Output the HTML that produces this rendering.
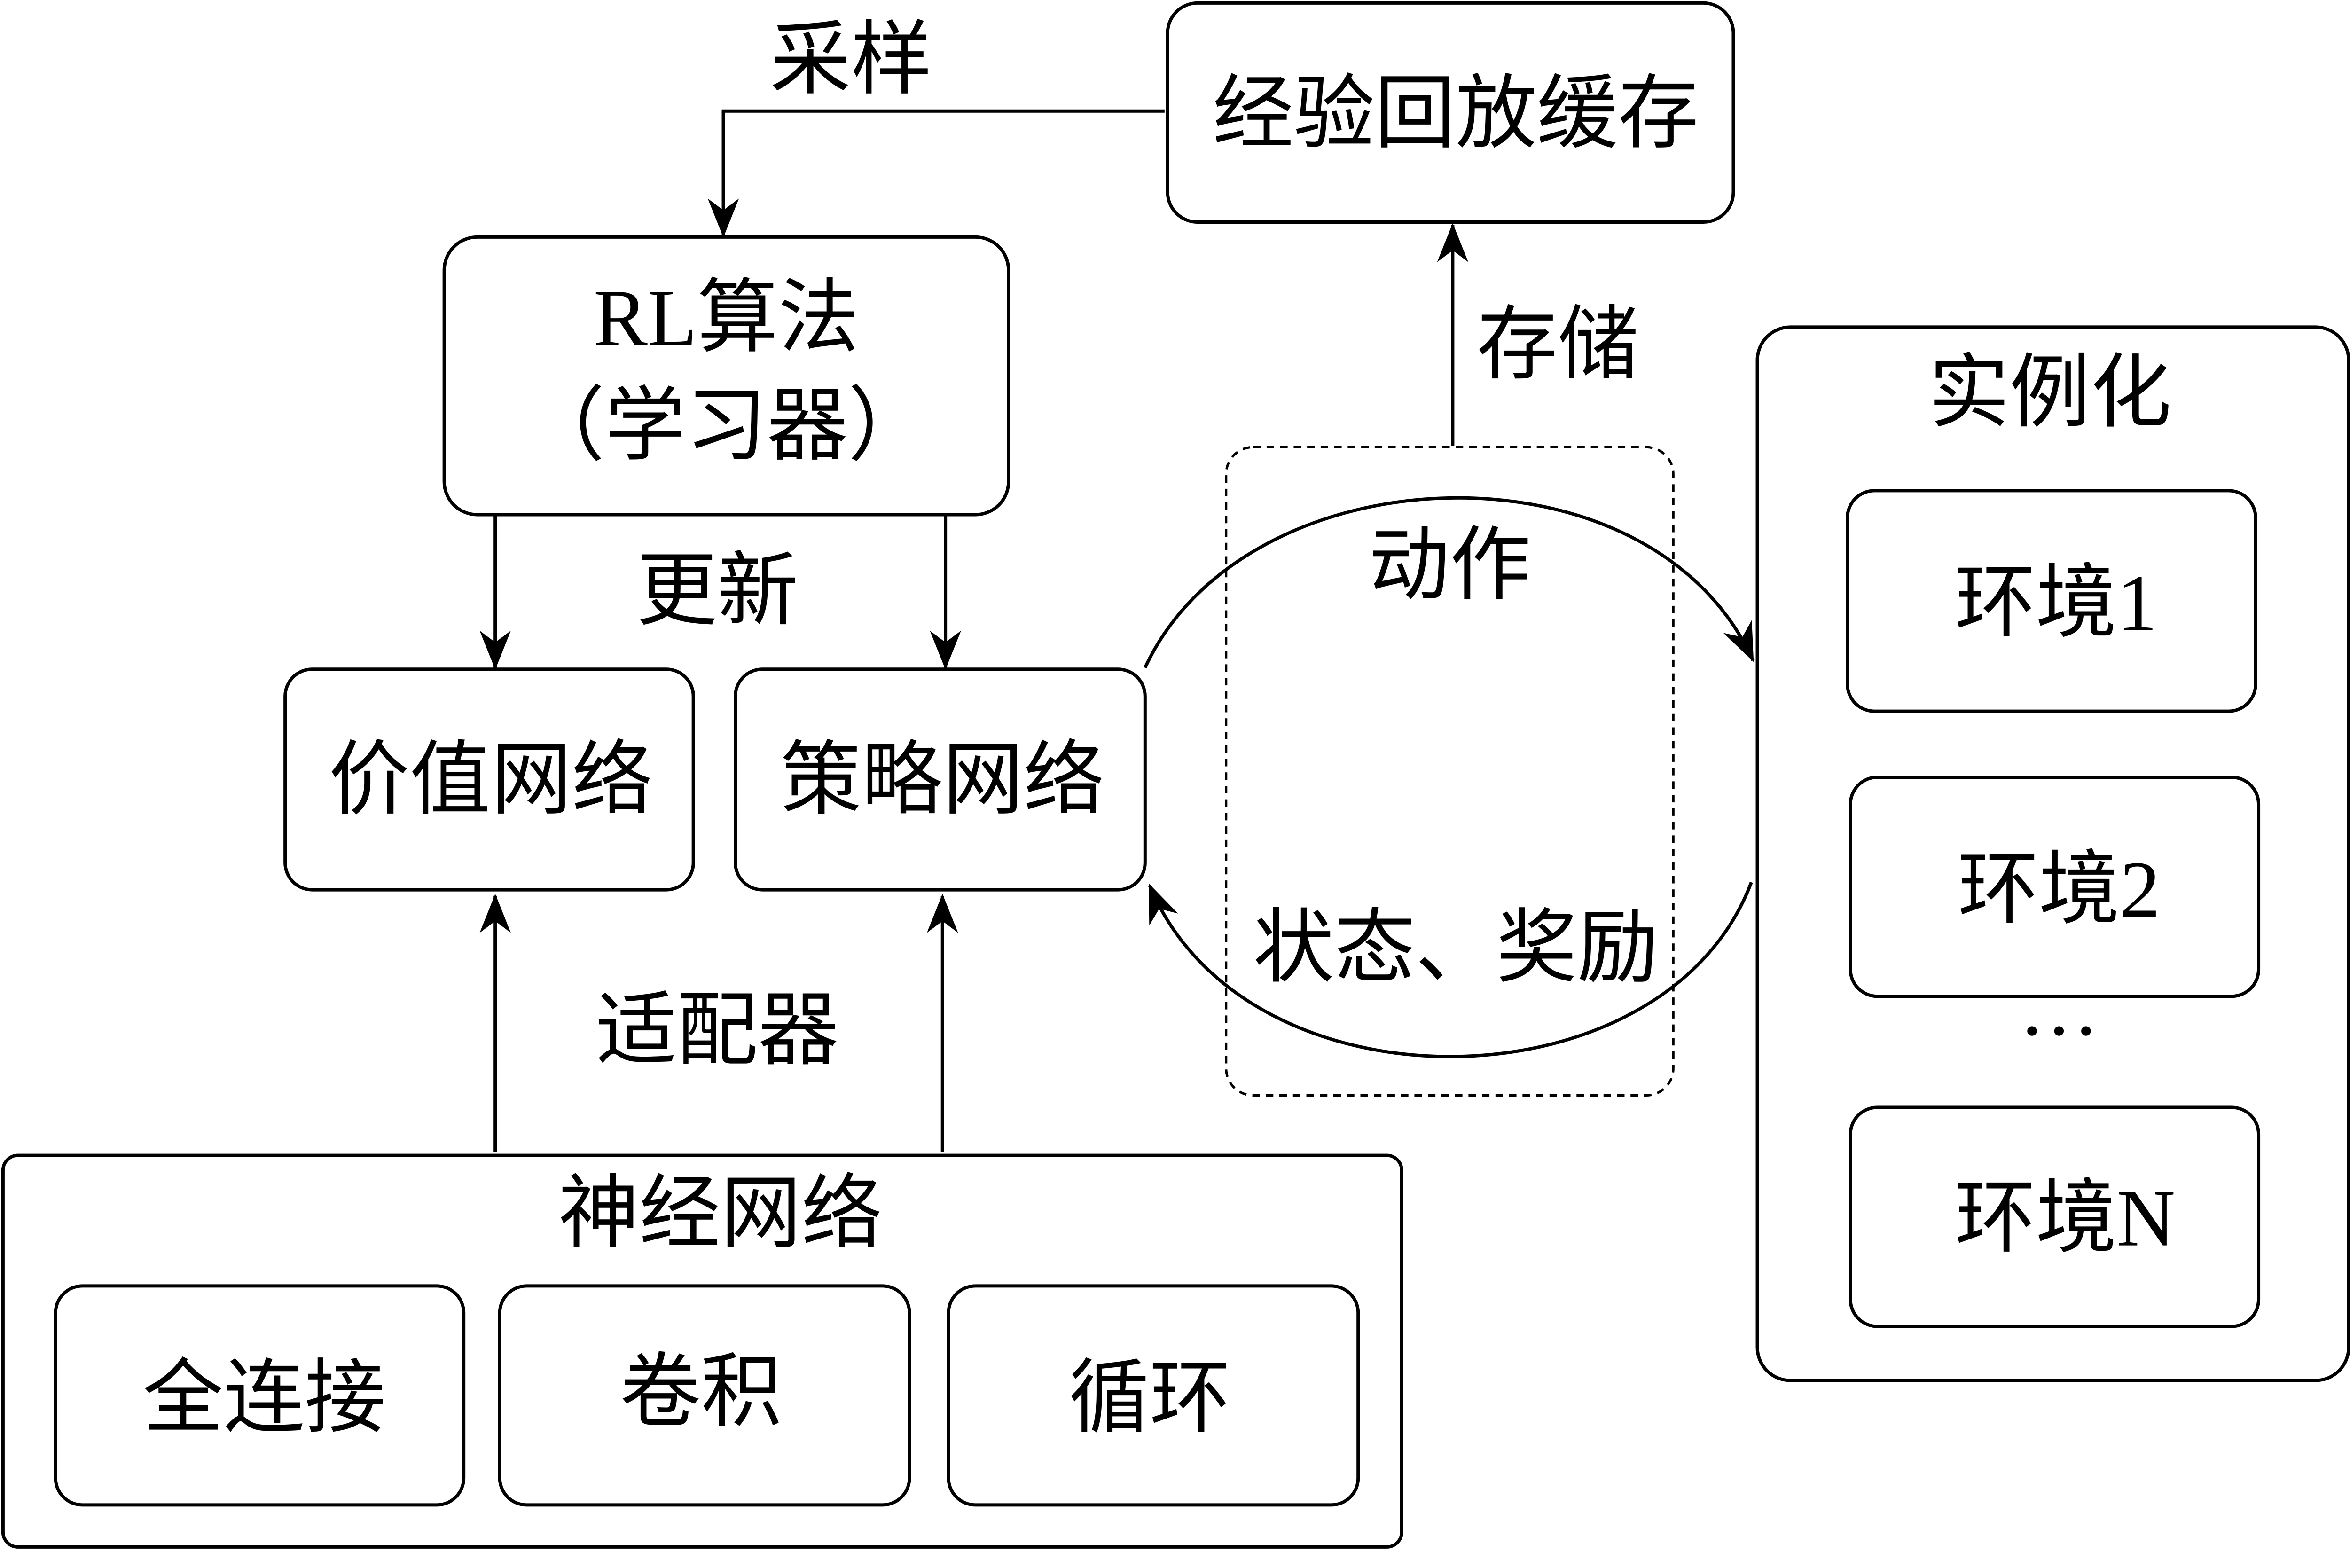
<!DOCTYPE html>
<html><head><meta charset="utf-8"><style>
html,body{margin:0;padding:0;background:#fff;}
svg{display:block;}
text{font-family:"Liberation Serif","Noto Sans CJK SC",serif;fill:#000;}
</style></head><body>
<svg width="5061" height="3336" viewBox="0 0 1585 1045" preserveAspectRatio="none" xmlns="http://www.w3.org/2000/svg">
<defs>
<marker id="a" viewBox="0 0 20 20" refX="19" refY="10" markerWidth="26" markerHeight="26" markerUnits="userSpaceOnUse" orient="auto">
<path d="M0,2 L20,10 L0,18 L6,10 Z" fill="#000"/>
</marker>
</defs>
<g fill="none" stroke="#000" stroke-width="2.2">
<rect x="778" y="2" width="377" height="146" rx="20"/>
<rect x="296" y="158" width="376" height="185" rx="22"/>
<rect x="190" y="446" width="272" height="147" rx="18"/>
<rect x="490" y="446" width="273" height="147" rx="18"/>
<rect x="2" y="770" width="932" height="261" rx="10"/>
<rect x="37" y="857" width="272" height="146" rx="18"/>
<rect x="333" y="857" width="273" height="146" rx="18"/>
<rect x="632" y="857" width="273" height="146" rx="18"/>
<rect x="1171" y="218" width="394" height="702" rx="22"/>
<rect x="1231" y="327" width="272" height="147" rx="18"/>
<rect x="1233" y="518" width="272" height="146" rx="18"/>
<rect x="1233" y="738" width="272" height="146" rx="18"/>
<rect x="817" y="298" width="298" height="432" rx="18" stroke-dasharray="5,4" stroke-width="1.6"/>
<path d="M776,74 H482 V157" marker-end="url(#a)"/>
<path d="M968,297 V150" marker-end="url(#a)"/>
<path d="M330,343 V445" marker-end="url(#a)"/>
<path d="M630,343 V445" marker-end="url(#a)"/>
<path d="M330,768 V597" marker-end="url(#a)"/>
<path d="M628,768 V597" marker-end="url(#a)"/>
<path d="M763,445 C830,300 1100,290 1168,440" marker-end="url(#a)"/>
<path d="M1167,588 C1110,740 830,745 766,590" marker-end="url(#a)"/>
</g>
<g font-size="54" text-anchor="middle">
<text x="970" y="94">经验回放缓存</text>
<text x="567" y="58">采样</text>
<text x="1038" y="248">存储</text>
<text x="484" y="230">RL算法</text>
<text x="484" y="302">（学习器）</text>
<text x="478" y="412">更新</text>
<text x="327" y="538">价值网络</text>
<text x="628" y="538">策略网络</text>
<text x="478" y="705">适配器</text>
<text x="480" y="827">神经网络</text>
<text x="176" y="950">全连接</text>
<text x="467" y="946">卷积</text>
<text x="766" y="950">循环</text>
<text x="966" y="395">动作</text>
<text x="970" y="650">状态、奖励</text>
<text x="1366" y="280">实例化</text>
<text x="1370" y="420">环境1</text>
<text x="1372" y="611">环境2</text>
<text x="1372" y="705">···</text>
<text x="1376" y="830">环境N</text>
</g>
</svg>
</body></html>
